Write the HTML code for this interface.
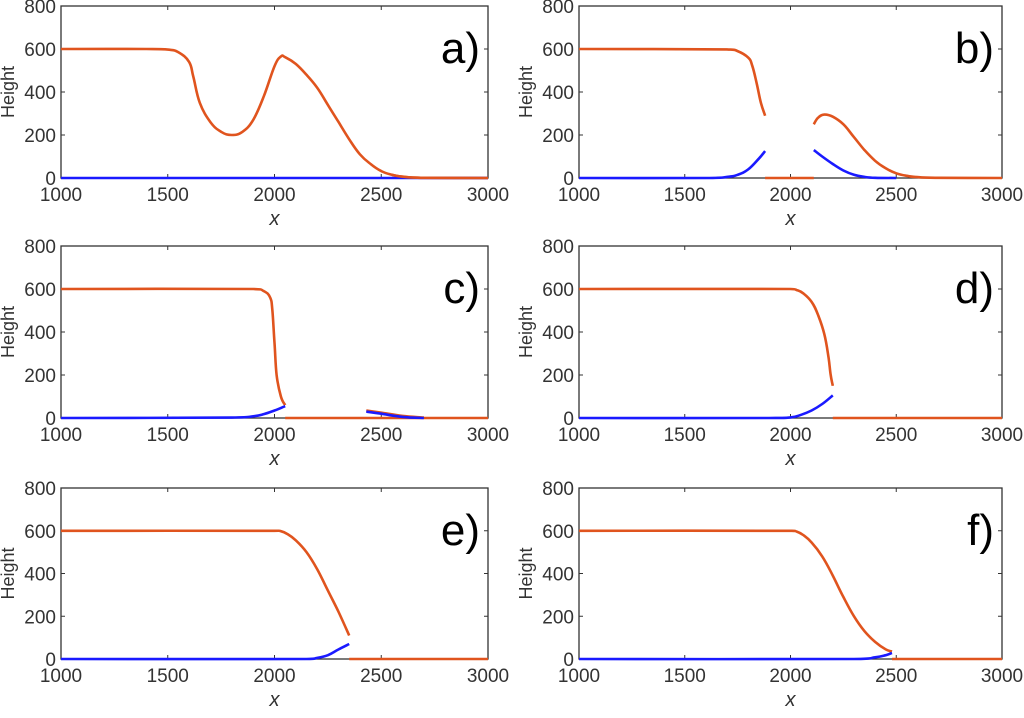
<!DOCTYPE html>
<html><head><meta charset="utf-8"><style>
body{margin:0;background:#fff;width:1024px;height:713px;overflow:hidden}
svg text{font-family:"Liberation Sans",sans-serif}
</style></head><body>
<svg id="fig" width="1024" height="713"></svg>
<script>
const xTicks=[1000,1500,2000,2500,3000];
const yTicks=[0,200,400,600,800];
const panelLabels=["a)","b)","c)","d)","e)","f)"];
const aOrangeX=[1000,1400,1500,1550,1600,1620,1650,1700,1750,1800,1850,1900,1950,2000,2030,2050,2100,2150,2200,2250,2300,2350,2400,2450,2500,2550,2600,2700,3000];
const aOrangeY=[600,600,597,585,540,470,350,260,215,200,215,270,380,520,565,562,530,480,420,340,260,180,110,65,32,15,6,1,0];
const aBlueX=[1000,3000];const aBlueY=[0,0];
const bOrange1X=[1000,1700,1750,1800,1820,1840,1860,1880];const bOrange1Y=[600,598,590,560,520,440,350,290];
const bOrange2X=[1880,2110];const bOrange2Y=[0,0];
const bOrange3X=[2110,2130,2160,2200,2250,2300,2350,2400,2450,2500,2550,2600,2700,3000];const bOrange3Y=[250,280,295,285,250,190,130,80,45,22,10,4,1,0];
const bBlue1X=[1000,1600,1700,1750,1800,1850,1880];const bBlue1Y=[0,0,5,15,40,90,125];
const bBlue2X=[2110,2150,2200,2250,2300,2350,2400,2500];const bBlue2Y=[130,100,65,35,15,5,1,0];
const cOrange1X=[1000,1900,1950,1980,1990,2000,2010,2030,2050];const cOrange1Y=[600,600,590,560,500,350,200,100,60];
const cOrange2X=[2050,3000];const cOrange2Y=[0,0];
const cOrange3X=[2430,2500,2600,2700];const cOrange3Y=[35,25,10,2];
const cBlue1X=[1000,1800,1900,1950,2000,2050];const cBlue1Y=[0,2,8,18,35,55];
const cBlue2X=[2430,2500,2600,2700];const cBlue2Y=[30,20,5,0];
const dOrange1X=[1000,2000,2030,2060,2100,2130,2160,2180,2190,2200];const dOrange1Y=[600,600,595,580,540,480,390,280,200,150];
const dOrange2X=[2200,3000];const dOrange2Y=[0,0];
const dBlueX=[1000,1900,2000,2050,2100,2150,2200];const dBlueY=[0,0,3,15,35,65,105];
const eOrange1X=[1000,2000,2030,2060,2100,2150,2200,2250,2300,2350];const eOrange1Y=[600,600,598,585,555,500,420,320,220,110];
const eOrange2X=[2350,3000];const eOrange2Y=[0,0];
const eBlueX=[1000,2150,2200,2250,2300,2350];const eBlueY=[0,0,5,18,45,70];
const fOrange1X=[1000,2000,2030,2060,2100,2150,2200,2250,2300,2350,2400,2450,2480];const fOrange1Y=[600,600,596,580,545,480,390,290,200,130,80,45,35];
const fOrange2X=[2480,3000];const fOrange2Y=[0,0];
const fBlueX=[1000,2300,2400,2450,2480];const fBlueY=[0,0,8,18,28];
const panels=[
 {l:61,r:488,t:6,b:178,o:[[aOrangeX,aOrangeY]],bl:[[aBlueX,aBlueY]],blueFirst:true},
 {l:579,r:1002,t:6,b:178,o:[[bOrange1X,bOrange1Y],[bOrange2X,bOrange2Y],[bOrange3X,bOrange3Y]],bl:[[bBlue1X,bBlue1Y],[bBlue2X,bBlue2Y]]},
 {l:61,r:488,t:246,b:418,o:[[cOrange1X,cOrange1Y],[cOrange2X,cOrange2Y],[cOrange3X,cOrange3Y]],bl:[[cBlue1X,cBlue1Y],[cBlue2X,cBlue2Y]]},
 {l:579,r:1002,t:246,b:418,o:[[dOrange1X,dOrange1Y],[dOrange2X,dOrange2Y]],bl:[[dBlueX,dBlueY]]},
 {l:61,r:488,t:488,b:659,o:[[eOrange1X,eOrange1Y],[eOrange2X,eOrange2Y]],bl:[[eBlueX,eBlueY]]},
 {l:579,r:1002,t:488,b:659,o:[[fOrange1X,fOrange1Y],[fOrange2X,fOrange2Y]],bl:[[fBlueX,fBlueY]]}
];
const NS="http://www.w3.org/2000/svg";
const svg=document.getElementById('fig');
function mk(tag,attrs,parent){const e=document.createElementNS(NS,tag);for(const k in attrs)e.setAttribute(k,attrs[k]);(parent||svg).appendChild(e);return e;}
function smoothPath(P){
 if(P.length<3)return 'M'+P.map(p=>p[0].toFixed(1)+','+p[1].toFixed(1)).join(' L');
 let d='M'+P[0][0].toFixed(1)+','+P[0][1].toFixed(1);
 for(let i=0;i<P.length-1;i++){
  const p0=P[Math.max(0,i-1)],p1=P[i],p2=P[i+1],p3=P[Math.min(P.length-1,i+2)];
  const t=0.2;
  let c1x=p1[0]+(p2[0]-p0[0])*t,c1y=p1[1]+(p2[1]-p0[1])*t;
  let c2x=p2[0]-(p3[0]-p1[0])*t,c2y=p2[1]-(p3[1]-p1[1])*t;
  c1x=Math.min(Math.max(c1x,p1[0]),p2[0]);c2x=Math.min(Math.max(c2x,p1[0]),p2[0]);
  d+=` C${c1x.toFixed(1)},${c1y.toFixed(1)} ${c2x.toFixed(1)},${c2y.toFixed(1)} ${p2[0].toFixed(1)},${p2[1].toFixed(1)}`;
 }
 return d;
}
panels.forEach((p,i)=>{
 const g=mk('g',{});
 
 
 const sx=v=>p.l+(v-1000)/2000*(p.r-p.l);
 const sy=v=>p.b-v/800*(p.b-p.t);
 const frame=mk('rect',{x:p.l,y:p.t,width:p.r-p.l,height:p.b-p.t,fill:'none',stroke:'#333','stroke-width':1.3},g);
 
 
 xTicks.forEach(t=>{
  const x=sx(t);
  mk('line',{x1:x,x2:x,y1:p.b,y2:p.b-4,stroke:'#333'},g);
  mk('line',{x1:x,x2:x,y1:p.t,y2:p.t+4,stroke:'#333'},g);
  const tx=mk('text',{x:x,y:p.b+23,'text-anchor':'middle','font-size':19,fill:'#333'},g);
  tx.textContent=t;
  
  
 });
 yTicks.forEach(t=>{
  const y=sy(t);
  mk('line',{x1:p.l,x2:p.l+4,y1:y,y2:y,stroke:'#333'},g);
  mk('line',{x1:p.r,x2:p.r-4,y1:y,y2:y,stroke:'#333'},g);
  const tx=mk('text',{x:p.l-5,y:y+7,'text-anchor':'end','font-size':19,fill:'#333'},g);
  tx.textContent=t;
  
  
 });
 const yl=mk('text',{x:0,y:0,transform:`translate(${p.l-47},${(p.t+p.b)/2}) rotate(-90)`,'text-anchor':'middle','font-size':18,fill:'#333'},g);
 yl.textContent='Height';
 
 
 const xl=mk('text',{x:(p.l+p.r)/2,y:p.b+47,'text-anchor':'middle','font-size':20,'font-style':'italic',fill:'#333'},g);
 xl.textContent='x';
 
 
 const draw=(segs,col,name)=>segs.forEach(s=>{
  const P=s[0].map((x,k)=>[sx(x),sy(s[1][k])]);
  const pl=mk('path',{d:smoothPath(P),fill:'none',stroke:col,'stroke-width':2.6,'stroke-linejoin':'round'},g);
  
  
 });
 draw(p.o,'#e0541e','orange-series');
 draw(p.bl,'#1a1aff','blue-series');
 if(p.blueFirst){
  draw([[[2550,2600,2700,3000],[15,6,1,0]]],'#e0541e','orange-series');
 }
 const lab=mk('text',{x:p.r-8,y:p.t+57,'text-anchor':'end','font-size':44,fill:'#000'},g);
 lab.textContent=panelLabels[i];
 
 
});
</script>
</body></html>
